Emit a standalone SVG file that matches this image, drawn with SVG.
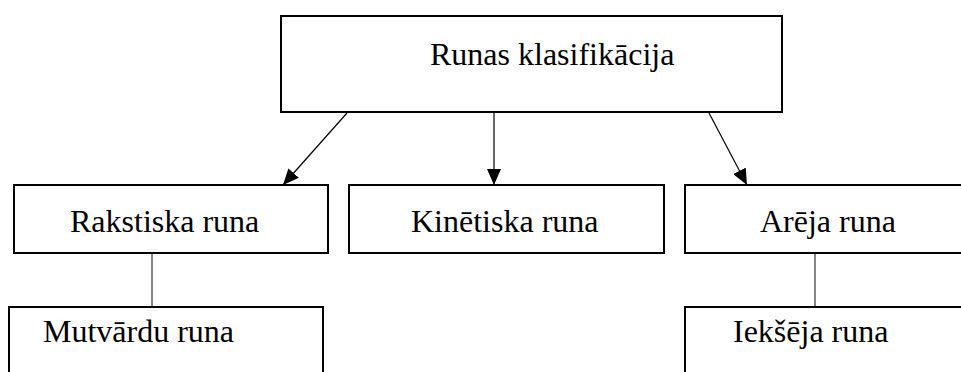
<svg xmlns="http://www.w3.org/2000/svg" width="961" height="372" viewBox="0 0 961 372">
<style>
.box{fill:#fff;stroke:#000;stroke-width:2}
.lbl{font-size:32px;fill:#000}
.con{stroke:#000;stroke-width:1.2;fill:none}
.plain{stroke:#333;stroke-width:1.2;fill:none}
</style>
<defs>
<marker id="arr" viewBox="0 0 16 14" refX="16" refY="7" markerWidth="16" markerHeight="14" markerUnits="userSpaceOnUse" orient="auto">
<path d="M0,0 L16,7 L0,14 z" fill="#000"/>
</marker>
</defs>
<rect width="961" height="372" fill="#fff"/>
<g id="connectors">
<line class="con" x1="347" y1="113" x2="283" y2="185" marker-end="url(#arr)"/>
<line class="con" x1="494" y1="113" x2="494" y2="185" marker-end="url(#arr)"/>
<line class="con" x1="709" y1="113" x2="747" y2="185" marker-end="url(#arr)"/>
<line class="plain" x1="152" y1="253" x2="152" y2="307"/>
<line class="plain" x1="815" y1="253" x2="815" y2="307"/>
</g>
<g font-family="'Liberation Serif', 'DejaVu Serif', serif">
<g id="node-root">
<rect class="box" x="281" y="16" width="501" height="96"/>
<text class="lbl" x="430" y="65">Runas klasifikācija</text>
</g>
<g id="node-rakstiska">
<rect class="box" x="14" y="185" width="314" height="68"/>
<text class="lbl" x="70" y="232">Rakstiska runa</text>
</g>
<g id="node-kinetiska">
<rect class="box" x="349" y="185" width="315" height="68"/>
<text class="lbl" x="411" y="232">Kinētiska runa</text>
</g>
<g id="node-areja">
<rect class="box" x="685" y="185" width="290" height="68"/>
<text class="lbl" x="760" y="232">Arēja runa</text>
</g>
<g id="node-mutvardu">
<rect class="box" x="9" y="307" width="314" height="80"/>
<text class="lbl" x="43" y="342">Mutvārdu runa</text>
</g>
<g id="node-ieksheja">
<rect class="box" x="685" y="307" width="290" height="80"/>
<text class="lbl" x="733" y="342">Iekšēja runa</text>
</g>
</g>
</svg>
